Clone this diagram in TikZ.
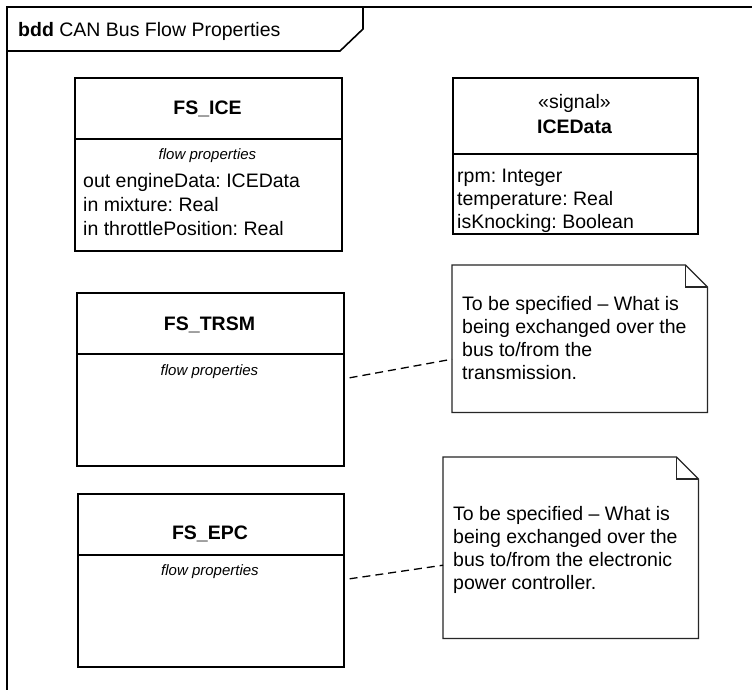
\documentclass[tikz,border=0pt]{standalone}
\usepackage{fontspec}
\setmainfont{Liberation Sans}
\frenchspacing
\begin{document}
\begin{tikzpicture}[x=1pt,y=-1pt,
  box/.style={draw, line width=1.6pt, inner sep=0pt, anchor=north west},
  frameline/.style={line width=1.6pt},
  divider/.style={line width=1.2pt},
  txt/.style={anchor=base west, inner sep=0pt, font=\fontsize{19.5}{23}\selectfont},
  ctr/.style={anchor=base, inner sep=0pt, font=\fontsize{19.5}{23}\selectfont},
  bname/.style={anchor=base, inner sep=0pt, font=\fontsize{19.5}{23}\selectfont\bfseries},
  fp/.style={anchor=base, inner sep=0pt, font=\fontsize{15}{18}\selectfont\itshape},
  notebox/.style={inner sep=0pt, anchor=north west},
  noteline/.style={line width=1.2pt, draw=black!85},
  anchorline/.style={dash pattern=on 8pt off 5pt, line width=1.3pt}]

\useasboundingbox (0,0) rectangle (752,690);
\fill[white] (0,0) rectangle (752,690);

% frame
\draw[frameline] (752,7) -- (7,7) -- (7,690);
\draw[frameline] (7,51) -- (340,51) -- (363,29) -- (363,7);
\node[txt] (title) at (18,37) {\textbf{bdd} CAN Bus Flow Properties};

% FS_ICE
\node[box, minimum width=267pt, minimum height=173pt] (ice) at (74,77) {};
\draw[divider] (ice.west |- 0,139) -- (ice.east |- 0,139);
\node[bname] (icename) at (207.5,115) {FS\_ICE};
\node[fp] (icefp) at (207.5,160) {flow properties};
\node[txt] (ice1) at (83,187) {out engineData: ICEData};
\node[txt] (ice2) at (83,211) {in mixture: Real};
\node[txt] (ice3) at (83,235) {in throttlePosition: Real};

% ICEData
\node[box, minimum width=245pt, minimum height=156pt] (icedata) at (452,77) {};
\draw[divider] (icedata.west |- 0,154) -- (icedata.east |- 0,154);
\node[ctr] (sig) at (574.5,109) {«signal»};
\node[bname] (icedataname) at (574.5,134) {ICEData};
\node[txt] (d1) at (457,182) {rpm: Integer};
\node[txt] (d2) at (457,205) {temperature: Real};
\node[txt] (d3) at (457,228) {isKnocking: Boolean};

% FS_TRSM
\node[box, minimum width=267pt, minimum height=173pt] (trsm) at (76,292) {};
\draw[divider] (trsm.west |- 0,354) -- (trsm.east |- 0,354);
\node[bname] (trsmname) at (209.5,330) {FS\_TRSM};
\node[fp] (trsmfp) at (209.5,375) {flow properties};

% FS_EPC
\node[box, minimum width=266pt, minimum height=173pt] (epc) at (77,493) {};
\draw[divider] (epc.west |- 0,555) -- (epc.east |- 0,555);
\node[bname] (epcname) at (210,539) {FS\_EPC};
\node[fp] (epcfp) at (210,575) {flow properties};

% Note 1
\node[notebox, minimum width=255pt, minimum height=147pt] (n1) at (452,265) {};
\draw[noteline] (n1.north west) -- ([xshift=-22pt]n1.north east) -- ([yshift=-22pt]n1.north east) -- (n1.south east) -- (n1.south west) -- cycle;
\draw[noteline] ([xshift=-22pt]n1.north east) -- ([xshift=-22pt,yshift=-22pt]n1.north east) -- ([yshift=-22pt]n1.north east);
\node[txt] (n1a) at (462,310) {To be specified – What is};
\node[txt] (n1b) at (462,333) {being exchanged over the};
\node[txt] (n1c) at (462,356) {bus to/from the};
\node[txt] (n1d) at (462,379) {transmission.};

% Note 2
\node[notebox, minimum width=255pt, minimum height=181pt] (n2) at (443,457) {};
\draw[noteline] (n2.north west) -- ([xshift=-22pt]n2.north east) -- ([yshift=-22pt]n2.north east) -- (n2.south east) -- (n2.south west) -- cycle;
\draw[noteline] ([xshift=-22pt]n2.north east) -- ([xshift=-22pt,yshift=-22pt]n2.north east) -- ([yshift=-22pt]n2.north east);
\node[txt] (n2a) at (453,520) {To be specified – What is};
\node[txt] (n2b) at (453,543) {being exchanged over the};
\node[txt] (n2c) at (453,566) {bus to/from the electronic};
\node[txt] (n2d) at (453,589) {power controller.};

% anchors
\draw[anchorline] ([shift={(5,-1.5)}]trsm.east) -- ([shift={(0,20.5)}]n1.west);
\draw[anchorline] ([shift={(5,-1.5)}]epc.east) -- ([shift={(0,17.5)}]n2.west);
\end{tikzpicture}
\end{document}
